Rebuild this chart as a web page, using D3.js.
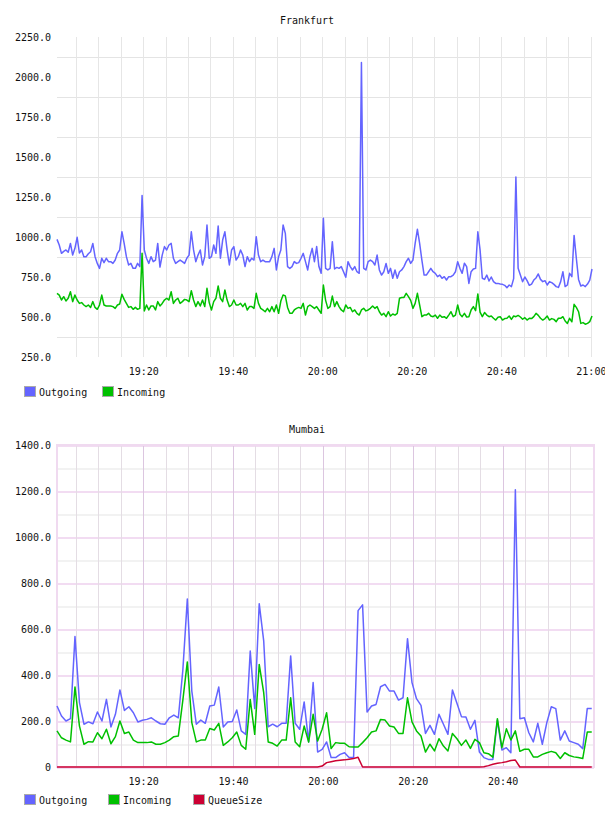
<!DOCTYPE html>
<html lang="en">
<head>
<meta charset="UTF-8">
<title>Frankfurt / Mumbai traffic</title>
<script src="https://d3js.org/d3.v7.min.js"></script>
<style>
  body { margin: 0; background: #fff; }
  svg { display: block; }
  text { font-family: 'DejaVu Sans Mono', monospace; font-size: 10px; fill: #111; }
  .line { fill: none; stroke-width: 1.5px; stroke-linejoin: round; }
  .grid line { shape-rendering: crispEdges; }
  .grid path { display: none; }
</style>
</head>
<body>
<div id="chart"></div>
<script>
// ---- Frankfurt: one sample every 30 s ----
const frankfurtStart = "19:00:45";
const frankfurtStep = 30;
const frankfurtDomain = ["19:00:45", "21:00:15"];
const frankfurtOutgoing = [
  985, 950, 898, 910, 919, 905, 960, 887, 929, 998,
  900, 919, 877, 877, 895, 908, 960, 877, 835, 804,
  867, 840, 867, 846, 846, 835, 856, 898, 919, 1033,
  960, 877, 825, 835, 804, 804, 835, 815, 1260, 919,
  867, 835, 877, 846, 856, 960, 812, 887, 940, 919,
  950, 960, 867, 835, 846, 856, 846, 835, 867, 887,
  1033, 919, 846, 887, 919, 825, 877, 1075, 867, 877,
  950, 898, 1069, 867, 981, 1033, 919, 825, 919, 940,
  856, 877, 919, 887, 815, 877, 846, 867, 856, 1002,
  887, 846, 856, 846, 846, 846, 877, 929, 794, 877,
  919, 1075, 1023, 815, 804, 815, 846, 835, 840, 867,
  898, 846, 794, 877, 929, 846, 940, 815, 773, 1117,
  804, 794, 804, 971, 800, 810, 804, 815, 783, 748,
  846, 815, 794, 815, 783, 773, 2090, 804, 794, 846,
  856, 846, 825, 887, 794, 762, 783, 835, 773, 804,
  742, 794, 742, 783, 794, 815, 846, 867, 835, 856,
  960, 1048, 960, 856, 762, 762, 783, 804, 783, 773,
  752, 762, 742, 752, 731, 752, 752, 762, 783, 846,
  804, 773, 836, 815, 710, 783, 800, 804, 1033, 920,
  742, 735, 762, 725, 750, 721, 710, 710, 706, 704,
  698, 683, 700, 690, 740, 1375, 804, 762, 721, 750,
  727, 698, 706, 731, 744, 769, 735, 721, 727, 700,
  721, 715, 704, 690, 685, 721, 783, 690, 700, 773,
  752, 1010, 867, 735, 694, 700, 690, 706, 731, 800
];
const frankfurtIncoming = [
  648, 637, 606, 627, 600, 617, 658, 596, 637, 606,
  585, 590, 575, 565, 575, 560, 596, 560, 548, 575,
  637, 575, 569, 569, 569, 565, 554, 575, 581, 642,
  610, 585, 560, 565, 548, 560, 548, 554, 898, 538,
  575, 544, 569, 569, 544, 596, 569, 585, 606, 617,
  606, 658, 585, 606, 617, 585, 596, 610, 606, 596,
  664, 606, 565, 596, 569, 606, 565, 679, 590, 544,
  596, 617, 694, 617, 596, 669, 606, 565, 575, 606,
  575, 575, 585, 565, 585, 544, 565, 565, 554, 648,
  585, 554, 544, 533, 554, 533, 565, 533, 575, 523,
  600, 637, 632, 560, 523, 523, 544, 554, 560, 554,
  585, 512, 565, 575, 565, 554, 565, 544, 523, 700,
  604, 554, 565, 631, 565, 596, 565, 544, 533, 575,
  554, 560, 533, 544, 523, 512, 544, 554, 538, 544,
  554, 569, 554, 565, 533, 512, 523, 502, 533, 506,
  519, 512, 523, 617, 622, 622, 648, 627, 604, 554,
  585, 648, 575, 502, 512, 512, 523, 506, 502, 512,
  492, 512, 498, 502, 492, 512, 533, 502, 512, 575,
  517, 502, 523, 500, 502, 544, 565, 540, 644, 530,
  502, 528, 512, 502, 506, 492, 481, 498, 502, 481,
  490, 492, 506, 485, 506, 502, 510, 500, 486, 496,
  481, 492, 490, 502, 523, 510, 492, 481, 490, 506,
  481, 490, 485, 471, 492, 492, 502, 475, 460, 492,
  470, 579, 560, 533, 460, 465, 455, 460, 471, 506
];
const frankfurtYTicks = ["250.0", "500.0", "750.0", "1000.0", "1250.0", "1500.0", "1750.0", "2000.0", "2250.0"];
const frankfurtYGrid = [375, 625, 875, 1125, 1375, 1625, 1875, 2125];
const frankfurtXTicks = ["19:20", "19:40", "20:00", "20:20", "20:40", "21:00"];

// ---- Mumbai: one sample every minute ----
const mumbaiStart = "19:00:50";
const mumbaiStep = 60;
const mumbaiDomain = ["19:00:50", "21:00:20"];
const mumbaiOutgoing = [
  265, 222, 200, 210, 567, 280, 186, 196, 188, 239,
  200, 294, 174, 229, 335, 246, 262, 236, 196, 203,
  207, 214, 200, 188, 186, 214, 226, 214, 420, 730,
  330, 186, 204, 190, 265, 269, 348, 174, 196, 198,
  248, 157, 142, 504, 254, 710, 548, 175, 186, 175,
  190, 190, 483, 190, 164, 283, 109, 367, 65, 77,
  109, 41, 41, 55, 62, 41, 41, 680, 705, 239,
  265, 272, 349, 359, 330, 330, 291, 301, 558, 367,
  297, 268, 146, 181, 142, 229, 186, 142, 335, 277,
  219, 217, 164, 203, 65, 41, 33, 33, 203, 74,
  84, 62, 1205, 210, 214, 149, 109, 190, 99, 193,
  262, 254, 117, 157, 113, 106, 99, 80, 254, 254
];
const mumbaiIncoming = [
  157, 127, 117, 109, 348, 178, 99, 110, 109, 149,
  123, 164, 101, 132, 200, 146, 152, 117, 106, 106,
  106, 109, 99, 99, 106, 117, 132, 135, 290, 457,
  193, 109, 117, 117, 167, 161, 190, 94, 109, 127,
  152, 94, 77, 294, 142, 446, 323, 109, 103, 91,
  117, 117, 301, 109, 88, 178, 109, 229, 113, 164,
  236, 80, 106, 103, 103, 88, 87, 87, 106, 127,
  152, 157, 207, 204, 178, 174, 146, 146, 301, 196,
  157, 135, 65, 99, 70, 123, 91, 70, 146, 123,
  94, 117, 81, 120, 106, 62, 58, 43, 210, 84,
  166, 117, 157, 68, 77, 77, 44, 44, 55, 62,
  68, 62, 37, 62, 50, 44, 41, 37, 152, 152
];
const mumbaiQueueSize = [
  0, 0, 0, 0, 0, 0, 0, 0, 0, 0,
  0, 0, 0, 0, 0, 0, 0, 0, 0, 0,
  0, 0, 0, 0, 0, 0, 0, 0, 0, 0,
  0, 0, 0, 0, 0, 0, 0, 0, 0, 0,
  0, 0, 0, 0, 0, 0, 0, 0, 0, 0,
  0, 0, 0, 0, 0, 0, 0, 0, 0, 4,
  19, 23, 27, 29, 31, 34, 37, 42, 0, 0,
  0, 0, 0, 0, 0, 0, 0, 0, 0, 0,
  0, 0, 0, 0, 0, 0, 0, 0, 0, 0,
  0, 0, 0, 0, 0, 1, 6, 12, 16, 19,
  23, 28, 30, 0, 0, 0, 0, 0, 0, 0,
  0, 0, 0, 0, 0, 0, 0, 0, 0, 0
];
const mumbaiYTicks = ["0", "200.0", "400.0", "600.0", "800.0", "1000.0", "1200.0", "1400.0"];
const mumbaiYMinor = [100, 300, 500, 700, 900, 1100, 1300];
const mumbaiXTicks = ["19:20", "19:40", "20:00", "20:20", "20:40"];

const colors = { Outgoing: "#6464ff", Incoming: "#00c000", QueueSize: "#cc0033" };

const parseTime = d3.timeParse("%H:%M:%S");
const parseTick = d3.timeParse("%H:%M");

const svg = d3.select("#chart").append("svg")
    .attr("width", 605)
    .attr("height", 816);

function drawChart(cfg) {
    const g = svg.append("g");
    const x = d3.scaleTime().domain(cfg.domain.map(parseTime)).range([cfg.left, cfg.right]);
    const y = d3.scaleLinear().domain(cfg.yDomain).range([cfg.bottom, cfg.top]);
    const h = cfg.bottom - cfg.top;
    const w = cfg.right - cfg.left;
    const start = parseTime(cfg.start);

    // horizontal grid
    cfg.yGrid.forEach(gr => {
        g.append("g").attr("class", "grid")
            .attr("transform", `translate(${cfg.left},0)`)
            .call(d3.axisLeft(y).tickValues(gr.values).tickSize(-w).tickFormat(""))
            .selectAll("line")
            .attr("stroke", gr.color)
            .attr("stroke-width", gr.width || 1);
    });

    // 5 minute vertical grid, 20 minute ones may get their own colour
    const fiveMin = d3.timeMinute.every(5).range(x.domain()[0], x.domain()[1]);
    const minorX = fiveMin.filter(t => t.getMinutes() % 20 !== 0);
    const majorX = fiveMin.filter(t => t.getMinutes() % 20 === 0);

    g.append("g").attr("class", "grid")
        .attr("transform", `translate(0,${cfg.bottom})`)
        .call(d3.axisBottom(x).tickValues(minorX).tickSize(-h).tickFormat(""))
        .selectAll("line").attr("stroke", cfg.gridMinorX);
    g.append("g").attr("class", "grid")
        .attr("transform", `translate(0,${cfg.bottom})`)
        .call(d3.axisBottom(x).tickValues(majorX).tickSize(-h).tickFormat(""))
        .selectAll("line").attr("stroke", cfg.gridMajorX);

    if (cfg.border) {
        g.append("rect")
            .attr("x", cfg.left).attr("y", cfg.top)
            .attr("width", w).attr("height", h)
            .attr("fill", "none").attr("stroke", cfg.border)
            .attr("stroke-width", 2);
    }

    // y labels
    const yAxis = g.append("g")
        .attr("transform", `translate(${cfg.left - 6},0)`)
        .call(d3.axisLeft(y).tickValues(cfg.yTicks.map(Number)).tickSize(0).tickPadding(0)
            .tickFormat((d, i) => cfg.yTicks[i]));
    yAxis.select(".domain").remove();
    yAxis.selectAll("text").attr("fill", "#111").attr("font-family", null).attr("font-size", null);

    // x labels
    const xAxis = g.append("g")
        .attr("transform", `translate(0,${cfg.bottom + 11})`)
        .call(d3.axisBottom(x).tickValues(cfg.xTicks.map(parseTick)).tickSize(0).tickPadding(0)
            .tickFormat((d, i) => cfg.xTicks[i]));
    xAxis.select(".domain").remove();
    xAxis.selectAll("text").attr("fill", "#111").attr("font-family", null).attr("font-size", null);

    // series
    cfg.series.forEach(s => {
        const pts = s.values.map((v, i) => ({ t: d3.timeSecond.offset(start, i * cfg.step), v }));
        g.append("path")
            .datum(pts)
            .attr("class", "line")
            .attr("stroke", colors[s.name])
            .attr("d", d3.line().x(d => x(d.t)).y(d => y(d.v)));
    });

    // title
    g.append("text")
        .attr("x", 307).attr("y", cfg.titleY)
        .attr("text-anchor", "middle")
        .text(cfg.title);

    // legend
    cfg.series.forEach((s, i) => {
        const lx = cfg.legendX[i];
        g.append("rect")
            .attr("x", lx + 0.5).attr("y", cfg.legendY - 5.5)
            .attr("width", 11).attr("height", 10)
            .attr("fill", colors[s.name]).attr("stroke", "#aaa");
        g.append("text")
            .attr("x", lx + 15).attr("y", cfg.legendY + 3.5)
            .text(s.name);
    });
}

drawChart({
    title: "Frankfurt", titleY: 24,
    left: 57, right: 592, top: 37, bottom: 357,
    domain: frankfurtDomain, start: frankfurtStart, step: frankfurtStep,
    yDomain: [250, 2250],
    yTicks: frankfurtYTicks, xTicks: frankfurtXTicks,
    yGrid: [{ values: frankfurtYGrid, color: "#e4e4e4" }],
    gridMinorX: "#e6e6e6", gridMajorX: "#e6e6e6",
    series: [
        { name: "Outgoing", values: frankfurtOutgoing },
        { name: "Incoming", values: frankfurtIncoming }
    ],
    legendX: [24, 102], legendY: 392
});

drawChart({
    title: "Mumbai", titleY: 433,
    left: 57, right: 594, top: 445, bottom: 767,
    domain: mumbaiDomain, start: mumbaiStart, step: mumbaiStep,
    yDomain: [0, 1400],
    yTicks: mumbaiYTicks, xTicks: mumbaiXTicks,
    yGrid: [
        { values: mumbaiYMinor, color: "#f2f2f2", width: 2 },
        { values: mumbaiYTicks.map(Number), color: "#f2dcf2", width: 2 }
    ],
    gridMinorX: "#e4dde4", gridMajorX: "#dcc6e0",
    border: "#f0daf0",
    series: [
        { name: "Outgoing", values: mumbaiOutgoing },
        { name: "Incoming", values: mumbaiIncoming },
        { name: "QueueSize", values: mumbaiQueueSize }
    ],
    legendX: [24, 108, 193], legendY: 800
});
</script>
</body>
</html>
